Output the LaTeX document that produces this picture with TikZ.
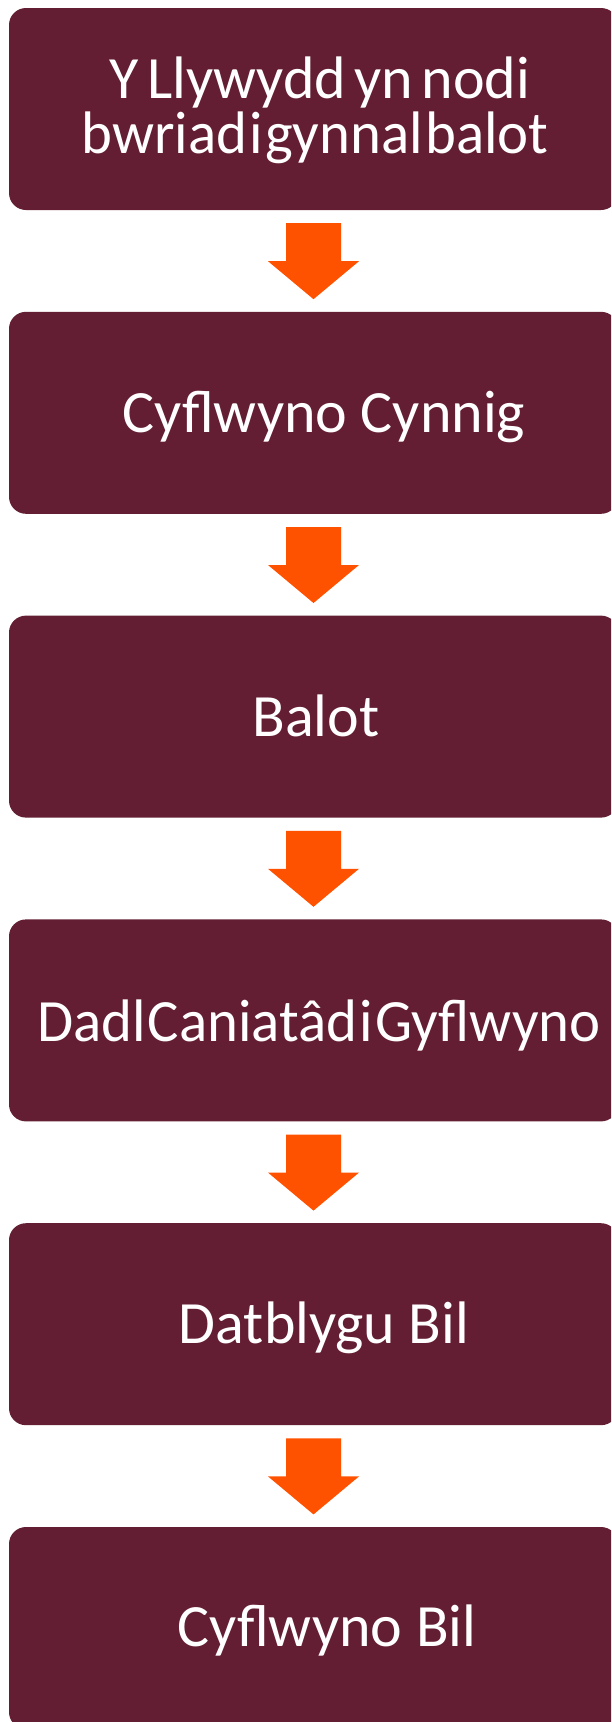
\documentclass[tikz,border=0pt]{standalone}
\usepackage{fontspec}
\setmainfont{Carlito}
\usetikzlibrary{calc}
\definecolor{boxred}{RGB}{100,30,51}
\definecolor{arroworange}{RGB}{255,82,0}
\newcommand{\tightsp}{\spaceskip=0.04em\relax}
\newcommand{\midsp}{\spaceskip=0.14em\relax}
\begin{document}
\begin{tikzpicture}[x=1pt,y=1pt,
  stepbox/.style={fill=boxred, draw=none, rounded corners=17pt, minimum width=609pt, minimum height=202pt, inner sep=0pt},
  boxtext/.style={text=white, anchor=base, inner sep=0pt, font=\fontsize{60}{55}\selectfont},
  downarrow/.style={fill=arroworange, draw=none}]
\useasboundingbox (0,0) rectangle (611,-1722);
\clip (0,0) rectangle (611,-1722);
\node[stepbox] (b1) at (313.5,-109) {};
\node[stepbox] (b2) at (313.5,-412.8) {};
\node[stepbox] (b3) at (313.5,-716.6) {};
\node[stepbox] (b4) at (313.5,-1020.4) {};
\node[stepbox] (b5) at (313.5,-1324.2) {};
\node[stepbox] (b6) at (313.5,-1628) {};
\node[boxtext] (t1a) at (320,-98) {\midsp Y Llywydd yn nodi};
\node[boxtext] (t1b) at (315,-153) {\scalebox{0.98}[1]{\tightsp bwriad i gynnal balot}};
\node[boxtext] (t2) at (324,-432) {Cyflwyno Cynnig};
\node[boxtext] (t3) at (316,-736) {Balot};
\node[boxtext] (t4) at (319,-1041) {\scalebox{0.98}[1]{\tightsp Dadl Caniatâd i Gyflwyno}};
\node[boxtext] (t5) at (324,-1343) {Datblygu Bil};
\node[boxtext] (t6) at (327,-1646) {Cyflwyno Bil};
\foreach \i in {1,...,5}{
  \fill[downarrow] ([shift={(-27.5,-13)}]b\i.south) -- ([shift={(27.5,-13)}]b\i.south)
    -- ([shift={(27.5,-51)}]b\i.south) -- ([shift={(45.5,-51)}]b\i.south)
    -- ([shift={(0,-89)}]b\i.south) -- ([shift={(-45.5,-51)}]b\i.south)
    -- ([shift={(-27.5,-51)}]b\i.south) -- cycle;
}
\end{tikzpicture}
\end{document}
